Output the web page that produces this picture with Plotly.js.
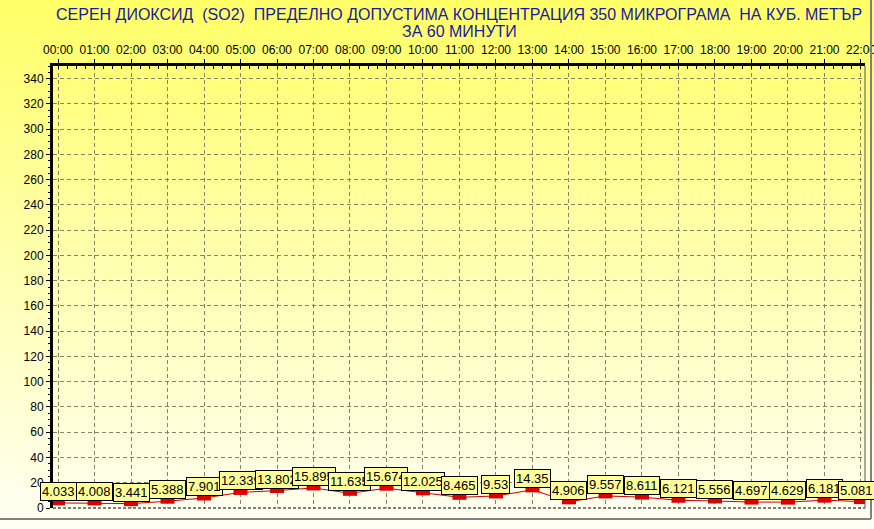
<!DOCTYPE html>
<html>
<head>
<meta charset="utf-8">
<script src="https://cdn.plot.ly/plotly-3.0.1.min.js"></script>
<style>
html,body{margin:0;padding:0;}
body{width:874px;height:529px;background:linear-gradient(to bottom,#FFFF66 0%,#FFFFB0 50%,#FFFFF4 100%);}
#chart{width:874px;height:529px;}
</style>
</head>
<body>
<div id="chart"></div>
<script>
const hours = ["00:00","01:00","02:00","03:00","04:00","05:00","06:00","07:00","08:00","09:00","10:00","11:00","12:00","13:00","14:00","15:00","16:00","17:00","18:00","19:00","20:00","21:00","22:00"];
const so2 = [4.033,4.008,3.441,5.388,7.901,12.339,13.802,15.895,11.635,15.674,12.025,8.465,9.53,14.35,4.906,9.557,8.611,6.121,5.556,4.697,4.629,6.181,5.081];
const labels = ["4.033","4.008","3.441","5.388","7.901","12.339","13.802","15.895","11.635","15.674","12.025","8.465","9.53","14.35","4.906","9.557","8.611","6.121","5.556","4.697","4.629","6.181","5.081"];
const titleLines = ["СЕРЕН ДИОКСИД  (SO2)  ПРЕДЕЛНО ДОПУСТИМА КОНЦЕНТРАЦИЯ 350 МИКРОГРАМА  НА КУБ. МЕТЪР", "ЗА 60 МИНУТИ"];
const xIdx = hours.map((h,i)=>i);

const lineTrace = {
  x: xIdx, y: so2, type: 'scatter', mode: 'lines',
  line: {color: '#CC0000', width: 1},
  hoverinfo: 'skip', showlegend: false
};
const markTrace = {
  x: xIdx, y: so2, type: 'scatter', mode: 'markers',
  marker: {symbol: 'line-ew', size: 10, color: '#DD0000', line: {color: '#DD0000', width: 5}},
  hoverinfo: 'skip', showlegend: false
};

const annotations = xIdx.map((x,i)=>({
  x: x, y: so2[i], xref: 'x', yref: 'y', text: labels[i], showarrow: false,
  yanchor: 'bottom', xanchor: 'center', yshift: 2, xshift: (i === xIdx.length-1 ? -4 : 0),
  bgcolor: '#FFFF99', bordercolor: '#000000', borderwidth: 1, borderpad: 1,
  font: {family: 'Liberation Sans, Arial, sans-serif', size: 13, color: '#000'}
}));
titleLines.forEach((t,k)=>{
  annotations.push({
    x: 0.5, xref: 'paper', y: k === 0 ? 1.1176 : 1.078, yref: 'paper',
    xanchor: 'center', yanchor: 'middle', text: t, showarrow: false,
    font: {family: 'Liberation Sans, Arial, sans-serif', size: 16, color: '#1A1A9C'}
  });
});

const layout = {
  width: 874, height: 529,
  margin: {l: 53, r: 9, t: 66, b: 21, pad: 0},
  paper_bgcolor: 'rgba(0,0,0,0)', plot_bgcolor: 'rgba(0,0,0,0)',
  xaxis: {
    side: 'top', range: [-0.137, 22.11],
    tickmode: 'array', tickvals: xIdx, ticktext: hours,
    ticks: 'outside', ticklen: 4, tickcolor: '#000', ticklabeloverflow: 'allow',
    tickfont: {family: 'Liberation Sans, Arial, sans-serif', size: 12, color: '#000'},
    showline: true, linecolor: '#000', linewidth: 3,
    showgrid: true, gridcolor: '#85855F', gridwidth: 1, griddash: '4px,3px',
    zeroline: false, fixedrange: true,
    minor: {dtick: 0.25, ticks: 'inside', ticklen: 3, tickcolor: '#000', showgrid: false}
  },
  yaxis: {
    range: [0, 350], tickmode: 'linear', tick0: 0, dtick: 20,
    ticks: 'outside', ticklen: 4, tickcolor: '#000',
    tickfont: {family: 'Liberation Sans, Arial, sans-serif', size: 12, color: '#000'},
    showline: true, linecolor: '#000', linewidth: 3,
    showgrid: true, gridcolor: '#85855F', gridwidth: 1, griddash: '4px,3px',
    zeroline: false, fixedrange: true,
    minor: {dtick: 5, ticks: 'outside', ticklen: 2, tickcolor: '#000', showgrid: false}
  },
  annotations: annotations,
  shapes: [
    {type: 'line', xref: 'paper', yref: 'paper', x0: 0, x1: 1, y0: 0, y1: 0, line: {color: '#000', width: 1, dash: '3px,2px'}},
    {type: 'line', xref: 'paper', yref: 'paper', x0: 1, x1: 1, y0: 0, y1: 1, line: {color: '#555', width: 1}},
    {type: 'line', xref: 'paper', yref: 'paper', x0: -0.066, x1: 1.0074, y0: -0.0249, y1: -0.0249, line: {color: '#808080', width: 2}},
    {type: 'line', xref: 'paper', yref: 'paper', x0: 1.0074, x1: 1.0074, y0: -0.0249, y1: 1.15, line: {color: '#808080', width: 2}}
  ]
};

Plotly.newPlot('chart', [lineTrace, markTrace], layout, {displayModeBar: false, staticPlot: true});
</script>
</body>
</html>
